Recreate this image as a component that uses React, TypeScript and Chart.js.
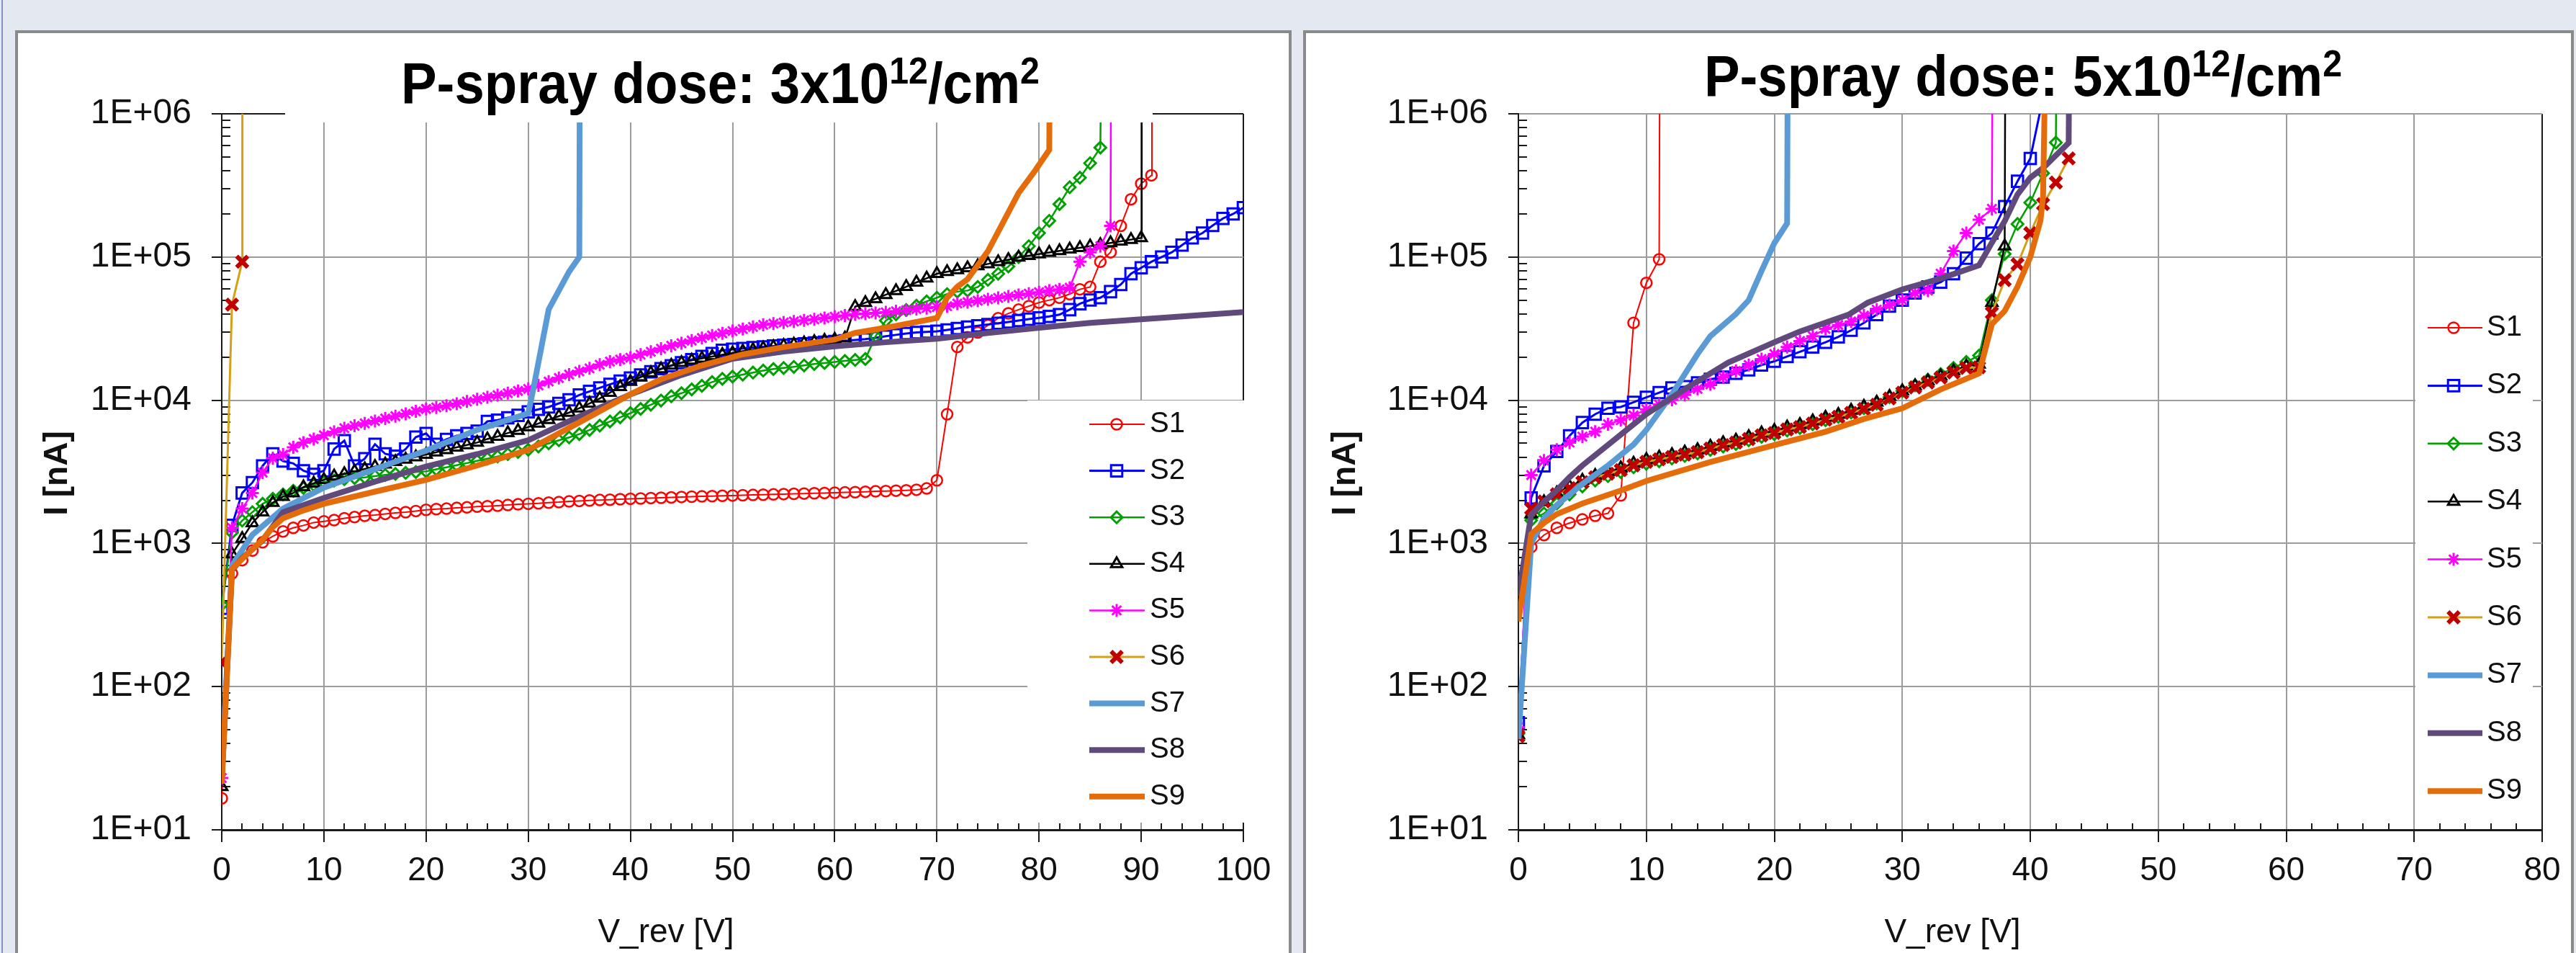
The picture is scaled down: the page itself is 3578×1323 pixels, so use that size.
import React, { useEffect, useRef } from 'react';
import { Chart, registerables } from 'chart.js';
import { drawPoint } from 'chart.js/helpers';

Chart.register(...registerables);

// ---------------- text / ticks ----------------
const SERIES_NAMES = ['S1', 'S2', 'S3', 'S4', 'S5', 'S6', 'S7', 'S8', 'S9'];
const TITLE_PREFIX = 'P-spray dose: ';
const TITLE_DOSE_LEFT = '3';
const TITLE_DOSE_RIGHT = '5';
const TITLE_BASE = 'x10';
const TITLE_EXP = '12';
const TITLE_UNIT = '/cm';
const TITLE_UNIT_EXP = '2';
const X_TITLE = 'V_rev [V]';
const Y_TITLE = 'I [nA]';
const Y_TICK_VALUES = [1e1, 1e2, 1e3, 1e4, 1e5, 1e6];
const Y_TICK_LABELS = ['1E+01', '1E+02', '1E+03', '1E+04', '1E+05', '1E+06'];
const X_TICKS_LEFT = [0, 10, 20, 30, 40, 50, 60, 70, 80, 90, 100];
const X_TICKS_RIGHT = [0, 10, 20, 30, 40, 50, 60, 70, 80];

// ---------------- LEFT panel data: [V_rev, I(nA)] ----------------
const L_S1 = [[0,16.6],[1,617],[2,764],[3,891],[4,1019],[5,1122],[6,1213],[7,1285],[8,1336],[9,1399],[10,1427],[11,1455],[12,1500],[13,1528],[14,1559],[15,1577],[16,1608],[17,1633],[18,1652],[19,1684],[20,1717],[21,1737],[22,1750],[23,1770],[24,1785],[25,1806],[26,1820],[27,1834],[28,1854],[29,1876],[30,1891],[31,1905],[32,1927],[33,1942],[34,1965],[35,1980],[36,1995],[37,2010],[38,2020],[39,2035],[40,2050],[41,2060],[42,2075],[43,2085],[44,2095],[45,2110],[46,2120],[47,2130],[48,2140],[49,2150],[50,2160],[51,2170],[52,2180],[53,2190],[54,2200],[55,2210],[56,2220],[57,2230],[58,2240],[59,2250],[60,2260],[61,2270],[62,2280],[63,2295],[64,2310],[65,2320],[66,2335],[67,2350],[68,2370],[69,2420],[70,2760],[71,7980],[72,23550],[73,27500],[74,29700],[75,33400],[76,37400],[77,40400],[78,42900],[79,45400],[80,48100],[81,50000],[82,52000],[83,55100],[84,59500],[85,61800],[86,92700],[87,108000],[88,165000],[89,253000],[90,325000],[91,372000],[91.05,3000000]];
const L_S2 = [[0,352],[1,1336],[2,2250],[3,2660],[4,3480],[5,4225],[6,3760],[7,3620],[8,3220],[9,3040],[10,3220],[11,4560],[12,5220],[13,3480],[14,3910],[15,4930],[16,4225],[17,4065],[18,4560],[19,5530],[20,5860],[21,4930],[22,5330],[23,5640],[24,5860],[25,6090],[26,7110],[27,7260],[28,7540],[29,7840],[30,8300],[31,8630],[32,8970],[33,9500],[34,10070],[35,10880],[36,11530],[37,12200],[38,12900],[39,13600],[40,14300],[41,15000],[42,15800],[43,16600],[44,17400],[45,18300],[46,19200],[47,20200],[48,21200],[49,22300],[50,22700],[51,23000],[52,23300],[53,23600],[54,23900],[55,24200],[56,24500],[57,24800],[58,25100],[59,25400],[60,25700],[61,26000],[62,26300],[63,26700],[64,27300],[65,28000],[66,28600],[67,29200],[68,29700],[69,30000],[70,30300],[71,31000],[72,31700],[73,32400],[74,33100],[75,33800],[76,34500],[77,35200],[78,36000],[79,36800],[80,37600],[81,38500],[82,39600],[83,42900],[84,47200],[85,50100],[86,52000],[87,57300],[88,64300],[89,76400],[90,84100],[91,92700],[92,100000],[93,108000],[94,121000],[95,136000],[96,147000],[97,166000],[98,186000],[99,200000],[100,221000]];
const L_S3 = [[0,373],[1,1190],[2,1443],[3,1653],[4,1892],[5,2050],[6,2200],[7,2330],[8,2440],[9,2560],[10,2680],[11,2750],[12,2810],[13,2860],[14,2890],[15,2950],[16,3010],[17,3060],[18,3110],[19,3150],[20,3185],[21,3290],[22,3400],[23,3520],[24,3640],[25,3770],[26,3910],[27,4050],[28,4200],[29,4350],[30,4510],[31,4750],[32,5000],[33,5250],[34,5500],[35,5800],[36,6200],[37,6650],[38,7100],[39,7600],[40,8130],[41,8700],[42,9300],[43,9950],[44,10640],[45,11200],[46,11900],[47,12600],[48,13400],[49,14100],[50,14600],[51,15100],[52,15600],[53,16100],[54,16500],[55,16800],[56,17100],[57,17500],[58,17900],[59,18200],[60,18500],[61,18800],[62,19100],[63,19400],[64,28000],[65,36000],[66,39800],[67,42700],[68,45700],[69,49000],[70,52000],[71,55100],[72,57300],[73,58300],[74,61800],[75,69300],[76,76400],[77,85900],[78,100000],[79,119000],[80,147000],[81,179000],[82,234000],[83,307000],[84,358000],[85,452000],[86,581000],[86.1,3000000]];
const L_S4 = [[0,20],[1,841],[2,1080],[3,1390],[4,1653],[5,1927],[6,2123],[7,2250],[8,2478],[9,2626],[10,2782],[11,2950],[12,3065],[13,3186],[14,3311],[15,3442],[16,3575],[17,3716],[18,3863],[19,4015],[20,4173],[21,4337],[22,4508],[23,4686],[24,4871],[25,5063],[26,5362],[27,5574],[28,5904],[29,6136],[30,6499],[31,6884],[32,7300],[33,7740],[34,8200],[35,8800],[36,9500],[37,10300],[38,11300],[39,12400],[40,13500],[41,14500],[42,15500],[43,16500],[44,17500],[45,18300],[46,19000],[47,19600],[48,20200],[49,20800],[50,21400],[51,22000],[52,22500],[53,23100],[54,23600],[55,24100],[56,24600],[57,25100],[58,25600],[59,26100],[60,26600],[61,27100],[62,45000],[63,48000],[64,51000],[65,54500],[66,58000],[67,62000],[68,66500],[69,71000],[70,76400],[71,79000],[72,81200],[73,83800],[74,86600],[75,89500],[76,92500],[77,95800],[78,99500],[79,102000],[80,104700],[81,107500],[82,110300],[83,113200],[84,116100],[85,119000],[86,122000],[87,125300],[88,128700],[89,132300],[90,136000],[90.05,3000000]];
const L_S5 = [[0,23],[1,1285],[2,1750],[3,2250],[4,3125],[5,3940],[6,4170],[7,4690],[8,5060],[9,5360],[10,5690],[11,6020],[12,6380],[13,6630],[14,6890],[15,7160],[16,7450],[17,7740],[18,8040],[19,8360],[20,8690],[21,8900],[22,9150],[23,9450],[24,9800],[25,10150],[26,10500],[27,10850],[28,11200],[29,11600],[30,12000],[31,12700],[32,13500],[33,14300],[34,15100],[35,15900],[36,16700],[37,17700],[38,18600],[39,19200],[40,19800],[41,20800],[42,21800],[43,22900],[44,24000],[45,25000],[46,26100],[47,27200],[48,28300],[49,29300],[50,30400],[51,31400],[52,32500],[53,33600],[54,34300],[55,34900],[56,35500],[57,36100],[58,36700],[59,37500],[60,38300],[61,39100],[62,39800],[63,40200],[64,40700],[65,41100],[66,41800],[67,42500],[68,43300],[69,44000],[70,44700],[71,45300],[72,47300],[73,48400],[74,49500],[75,50700],[76,51800],[77,53000],[78,54300],[79,55500],[80,56800],[81,58200],[82,59500],[83,61000],[84,92700],[85,108000],[86,119000],[87,165000],[87.05,3000000]];
const L_S6 = [[0,148],[1,46500],[2,92700],[2.02,3000000]];
const L_S7 = [[0,25],[1,700],[3,1150],[6,1750],[10,2450],[15,3300],[20,4450],[25,6200],[30,8100],[30.5,12000],[32,43000],[34,79000],[35,100000],[35.05,3000000]];
const L_S8 = [[0,22],[1,650],[2,790],[4,1050],[6,1650],[10,2080],[15,2700],[20,3440],[25,4200],[30,5250],[35,7700],[40,10970],[45,15000],[50,19500],[55,21900],[60,23800],[65,25400],[70,26900],[75,29500],[80,32100],[85,34700],[90,36700],[95,38900],[100,41200]];
const L_S9 = [[0,21],[1,660],[2,780],[3,910],[4,1060],[5,1300],[6,1500],[8,1700],[10,1890],[15,2300],[20,2780],[25,3500],[30,4500],[35,7000],[40,11000],[43,14000],[47,17500],[51,20900],[55,23500],[60,26500],[62,29500],[66,33000],[70,37500],[71,52000],[72,62000],[73,70000],[75,110000],[78,280000],[79.6,400000],[81,560000],[81.05,3000000]];

// ---------------- RIGHT panel data: [V_rev, I(nA)] ----------------
const R_S1 = [[0,48],[1,944],[2,1145],[3,1285],[4,1389],[5,1471],[6,1559],[7,1621],[8,2164],[9,34700],[10,66000],[11,96400],[11.05,3000000]];
const R_S2 = [[0,56],[1,2080],[2,3480],[3,4390],[4,5640],[5,6980],[6,7990],[7,8790],[8,8970],[9,9680],[10,10470],[11,11300],[12,12200],[13,12450],[14,13200],[15,14000],[16,14500],[17,15400],[18,16300],[19,17600],[20,18700],[21,20200],[22,21800],[23,23500],[24,25400],[25,27700],[26,30800],[27,34700],[28,39600],[29,45400],[30,50000],[31,56100],[32,61800],[33,66800],[34,76400],[35,98200],[36,124000],[37,147000],[38,225000],[39,338000],[40,488000],[41,1300000]];
const R_S3 = [[0,47],[1,1450],[2,1620],[3,1900],[4,2200],[5,2500],[6,2750],[7,2950],[8,3150],[9,3400],[10,3600],[11,3750],[12,3920],[13,4080],[14,4250],[15,4500],[16,4750],[17,4950],[18,5250],[19,5550],[20,5800],[21,6150],[22,6400],[23,6800],[24,7250],[25,7650],[26,8200],[27,8800],[28,9500],[29,10500],[30,11600],[31,12700],[32,13900],[33,15200],[34,16800],[35,18500],[36,20500],[37,50000],[38,105000],[39,170000],[40,240000],[41,385000],[42,630000],[42.05,3000000]];
const R_S4 = [[0,46],[1,1600],[2,1950],[3,2250],[4,2500],[5,2750],[6,2980],[7,3170],[8,3360],[9,3620],[10,3850],[11,4000],[12,4160],[13,4330],[14,4500],[15,4760],[16,5040],[17,5250],[18,5560],[19,5890],[20,6130],[21,6490],[22,6750],[23,7150],[24,7590],[25,7950],[26,8480],[27,9050],[28,9680],[29,10600],[30,11600],[31,12600],[32,13600],[33,14700],[34,16000],[35,17300],[36,17800],[37,48000],[38,119000],[38.05,3000000]];
const R_S5 = [[0,52],[1,3000],[2,3790],[3,4510],[4,5060],[5,5570],[6,6030],[7,6800],[8,7250],[9,7830],[10,8630],[11,9330],[12,10070],[13,10900],[14,12000],[15,12900],[16,14500],[17,16000],[18,17600],[19,19400],[20,21000],[21,23500],[22,25900],[23,28000],[24,31500],[25,33500],[26,35500],[27,39000],[28,42900],[29,46200],[30,50000],[31,56100],[32,58300],[33,76400],[34,110000],[35,147000],[36,182000],[37,217000],[37.05,3000000]];
const R_S6 = [[0,45],[1,1750],[2,1965],[3,2207],[4,2430],[5,2677],[6,2892],[7,3065],[8,3247],[9,3509],[10,3717],[11,3863],[12,4015],[13,4173],[14,4337],[15,4594],[16,4866],[17,5057],[18,5357],[19,5675],[20,5898],[21,6247],[22,6498],[23,6882],[24,7308],[25,7650],[26,8150],[27,8700],[28,9300],[29,10300],[30,11300],[31,12300],[32,13300],[33,14400],[34,15600],[35,16800],[36,17000],[37,40700],[38,69000],[39,89000],[40,147000],[41,234000],[42,331000],[43,488000]];
const R_S7 = [[0,43],[1,1000],[2,1500],[3,1850],[5,2600],[7,3500],[9,4900],[10,6200],[12,11000],[14,21000],[15,28000],[17,40000],[18,50000],[19,80000],[20,125000],[21,172000],[21.05,3000000]];
const R_S8 = [[0,430],[1,1590],[2,1950],[3,2350],[4,2900],[5,3500],[8,5750],[10,8000],[11,9140],[13.6,12900],[16.4,18300],[20,25400],[22,30200],[25.8,39600],[27.3,48000],[30,59400],[33,70800],[36,87500],[37,126000],[38,178000],[39,273000],[40,358000],[41,418000],[43,627000],[43.05,3000000]];
const R_S9 = [[0,285],[1,1160],[2,1390],[3,1600],[5,1900],[8,2340],[10,2730],[15,3700],[20,4860],[24,6020],[27,7400],[30,8790],[33,11900],[36,15400],[37,34000],[38,42000],[39,62000],[40,100000],[40.8,180000],[41,265000],[41.2,3000000]];

const LEFT_SERIES = [L_S1, L_S2, L_S3, L_S4, L_S5, L_S6, L_S7, L_S8, L_S9];
const RIGHT_SERIES = [R_S1, R_S2, R_S3, R_S4, R_S5, R_S6, R_S7, R_S8, R_S9];

// ---------------- styles ----------------
const FONT = '"Liberation Sans", Arial, sans-serif';
const GRID = '#9C9C9C';
const AXIS = '#1A1A1A';
const STYLES: any[] = [
  { line: '#FF0000', lw: 2, ps: 'circle', pr: 7.5, pc: '#FF0000', pw: 2.5 },
  { line: '#0000FF', lw: 3, ps: 'rect', pr: 11, pc: '#0000FF', pw: 3 },
  { line: '#00A000', lw: 2.5, ps: 'rectRot', pr: 8, pc: '#00A000', pw: 3 },
  { line: '#000000', lw: 2.5, ps: 'triangle', pr: 9, pc: '#000000', pw: 3 },
  { line: '#FF00FF', lw: 2.5, ps: 'star', pr: 9, pc: '#FF00FF', pw: 3 },
  { line: '#D4A017', lw: 3, ps: 'crossRot', pr: 11, pc: '#C00000', pw: 6 },
  { line: '#5B9BD5', lw: 8, ps: 'circle', pr: 0, pc: '#5B9BD5', pw: 0 },
  { line: '#604A7B', lw: 8, ps: 'circle', pr: 0, pc: '#604A7B', pw: 0 },
  { line: '#E46C0A', lw: 8, ps: 'circle', pr: 0, pc: '#E46C0A', pw: 0 },
];

const decoPlugin = {
  id: 'deco',
  beforeDatasetsDraw(chart: any, _a: any, o: any) {
    const ctx = chart.ctx;
    const { left, bottom } = chart.chartArea;
    const xs = chart.scales.x;
    const ys = chart.scales.y;
    ctx.save();
    ctx.strokeStyle = AXIS;
    ctx.lineWidth = 2;
    ctx.beginPath();
    for (let e = 1; e < 6; e++) {
      for (let m = 2; m < 10; m++) {
        const y = Math.round(ys.getPixelForValue(m * Math.pow(10, e)));
        ctx.moveTo(left, y);
        ctx.lineTo(left + 12, y);
      }
    }
    for (let v = 2; v < o.xMax; v += 2) {
      if (v % 10 === 0) continue;
      const x = Math.round(xs.getPixelForValue(v));
      ctx.moveTo(x, bottom);
      ctx.lineTo(x, bottom - 9);
    }
    ctx.stroke();
    ctx.restore();
  },
  afterDatasetsDraw(chart: any, _a: any, o: any) {
    const ctx = chart.ctx;
    ctx.save();
    ctx.fillStyle = '#FFFFFF';
    if (o.titleBox) {
      const b = o.titleBox;
      ctx.fillRect(b[0], b[1], b[2] - b[0], b[3] - b[1]);
    }
    const L = o.legend;
    ctx.fillRect(L.box[0], L.box[1], L.box[2] - L.box[0], L.box[3] - L.box[1]);

    // legend entries
    chart.data.datasets.forEach((d: any, i: number) => {
      const y = L.y0 + i * L.dy;
      ctx.strokeStyle = d.borderColor;
      ctx.lineWidth = d.borderWidth;
      ctx.beginPath();
      ctx.moveTo(L.lx0, y);
      ctx.lineTo(L.lx1, y);
      ctx.stroke();
      if (d.pointRadius > 0) {
        ctx.strokeStyle = d.pointBorderColor;
        ctx.fillStyle = 'rgba(255,255,255,0)';
        ctx.lineWidth = d.pointBorderWidth;
        drawPoint(ctx, { pointStyle: d.pointStyle, radius: d.pointRadius, rotation: 0, borderWidth: d.pointBorderWidth } as any, L.mx, y);
      }
      ctx.fillStyle = '#111111';
      ctx.font = `${L.fontSize}px ${FONT}`;
      ctx.textAlign = 'left';
      ctx.textBaseline = 'middle';
      ctx.fillText(d.label, L.tx, y);
    });

    // chart title with superscripts
    const t = o.title;
    const big = `bold ${t.size}px ${FONT}`;
    const small = `bold ${t.supSize}px ${FONT}`;
    const parts: any[] = [
      { s: TITLE_PREFIX + t.dose + TITLE_BASE, f: big, dy: 0 },
      { s: TITLE_EXP, f: small, dy: -t.rise },
      { s: TITLE_UNIT, f: big, dy: 0 },
      { s: TITLE_UNIT_EXP, f: small, dy: -t.rise },
    ];
    let total = 0;
    parts.forEach((p) => { ctx.font = p.f; p.w = ctx.measureText(p.s).width; total += p.w; });
    const sx = (t.x1 - t.x0) / total;
    ctx.save();
    ctx.translate(t.x0, t.baseline);
    ctx.scale(sx, 1);
    ctx.fillStyle = '#000000';
    ctx.textAlign = 'left';
    ctx.textBaseline = 'alphabetic';
    let x = 0;
    parts.forEach((p) => { ctx.font = p.f; ctx.fillText(p.s, x, p.dy); x += p.w; });
    ctx.restore();

    // axis titles
    ctx.fillStyle = '#111111';
    ctx.font = `46px ${FONT}`;
    ctx.textAlign = 'center';
    ctx.textBaseline = 'alphabetic';
    ctx.fillText(X_TITLE, o.xTitle.cx, o.xTitle.baseline);
    ctx.save();
    ctx.translate(o.yTitle.cx, o.yTitle.cy);
    ctx.rotate(-Math.PI / 2);
    ctx.font = `bold 46px ${FONT}`;
    ctx.textBaseline = 'middle';
    ctx.fillText(Y_TITLE, 0, 0);
    ctx.restore();

    ctx.restore();
  },
};

function buildConfig(series: any[], p: any): any {
  const datasets = series.map((data, i) => {
    const s = STYLES[i];
    return {
      label: SERIES_NAMES[i],
      data,
      borderColor: s.line,
      borderWidth: s.lw,
      backgroundColor: 'rgba(0,0,0,0)',
      pointStyle: s.ps,
      pointRadius: s.pr,
      pointHoverRadius: s.pr,
      pointBorderColor: s.pc,
      pointBorderWidth: s.pw,
      pointBackgroundColor: 'rgba(0,0,0,0)',
      fill: false,
      tension: 0,
      order: 9 - i,
    };
  });
  return {
    type: 'line',
    data: { datasets },
    plugins: [decoPlugin],
    options: {
      responsive: false,
      animation: false,
      devicePixelRatio: 1,
      events: [],
      layout: { padding: { left: 0, top: p.top, right: p.padRight, bottom: 0 } },
      plugins: {
        legend: { display: false },
        tooltip: { enabled: false },
        title: { display: false },
        deco: p.deco,
      },
      scales: {
        x: {
          type: 'linear',
          min: 0,
          max: p.xMax,
          afterBuildTicks: (s: any) => { s.ticks = p.xTicks.map((v: number) => ({ value: v })); },
          afterFit: (s: any) => { s.height = p.xH; },
          ticks: {
            autoSkip: false,
            maxRotation: 0,
            padding: 13,
            color: '#111111',
            font: { family: FONT, size: 46 },
            callback: (v: any) => String(v),
          },
          grid: {
            color: (c: any) => (c.tick && c.tick.value === p.xMax ? AXIS : GRID),
            lineWidth: 2,
            tickLength: 17,
            tickColor: AXIS,
            tickWidth: 2,
          },
          border: { color: AXIS, width: 3 },
        },
        y: {
          type: 'logarithmic',
          min: 10,
          max: 1e6,
          afterBuildTicks: (s: any) => { s.ticks = Y_TICK_VALUES.map((v) => ({ value: v })); },
          afterFit: (s: any) => { s.width = p.yW; },
          ticks: {
            autoSkip: false,
            padding: 28,
            color: '#111111',
            font: { family: FONT, size: 48 },
            callback: (v: any) => {
              const i = Y_TICK_VALUES.indexOf(Number(v));
              return i >= 0 ? Y_TICK_LABELS[i] : '';
            },
          },
          grid: {
            color: (c: any) => (p.topDark && c.tick && c.tick.value === 1e6 ? AXIS : GRID),
            lineWidth: 2,
            tickLength: 14,
            tickColor: AXIS,
            tickWidth: 2,
          },
          border: { color: AXIS, width: 2 },
        },
      },
    },
  };
}

const LEFT_P = {
  xMax: 100, xTicks: X_TICKS_LEFT, top: 158, padRight: 73, xH: 171, yW: 308, topDark: true,
  deco: {
    xMax: 100,
    titleBox: [396, 60, 1601, 170],
    legend: { box: [1427, 556, 1737, 1142], lx0: 1513, lx1: 1590, mx: 1551, tx: 1597, y0: 589, dy: 64.6, fontSize: 40 },
    title: { dose: TITLE_DOSE_LEFT, size: 80, supSize: 52, rise: 27, x0: 557, x1: 1444, baseline: 143 },
    xTitle: { cx: 925, baseline: 1308 },
    yTitle: { cx: 80, cy: 657 },
  },
};

const RIGHT_P = {
  xMax: 80, xTicks: X_TICKS_RIGHT, top: 158, padRight: 47, xH: 171, yW: 309, topDark: false,
  deco: {
    xMax: 80,
    titleBox: null,
    legend: { box: [1555, 415, 1718, 1142], lx0: 1572, lx1: 1648, mx: 1608, tx: 1654, y0: 455, dy: 80.4, fontSize: 40 },
    title: { dose: TITLE_DOSE_RIGHT, size: 80, supSize: 52, rise: 27, x0: 567, x1: 1453, baseline: 133 },
    xTitle: { cx: 912, baseline: 1308 },
    yTitle: { cx: 69, cy: 657 },
  },
};

export default function App() {
  const leftRef = useRef<HTMLCanvasElement>(null);
  const rightRef = useRef<HTMLCanvasElement>(null);

  useEffect(() => {
    const c1 = new Chart(leftRef.current as HTMLCanvasElement, buildConfig(LEFT_SERIES, LEFT_P));
    const c2 = new Chart(rightRef.current as HTMLCanvasElement, buildConfig(RIGHT_SERIES, RIGHT_P));
    return () => { c1.destroy(); c2.destroy(); };
  }, []);

  const panel: React.CSSProperties = {
    position: 'absolute', top: 42, height: 1400, background: '#FFFFFF',
    border: '4px solid #8A8A8A', boxSizing: 'border-box',
  };

  return (
    <div style={{ position: 'absolute', left: 0, top: 0, width: 3578, height: 1323, background: '#E4E8F1', overflow: 'hidden' }}>
      <div style={{ position: 'absolute', left: 2, top: 0, width: 2, height: 1323, background: '#7F93BF' }} />
      <div style={{ ...panel, left: 21, width: 1773 }} />
      <div style={{ ...panel, left: 1810, width: 1765 }} />
      <canvas ref={leftRef} width={1800} height={1323} style={{ position: 'absolute', left: 0, top: 0, width: 1800, height: 1323 }} />
      <canvas ref={rightRef} width={1778} height={1323} style={{ position: 'absolute', left: 1800, top: 0, width: 1778, height: 1323 }} />
    </div>
  );
}
